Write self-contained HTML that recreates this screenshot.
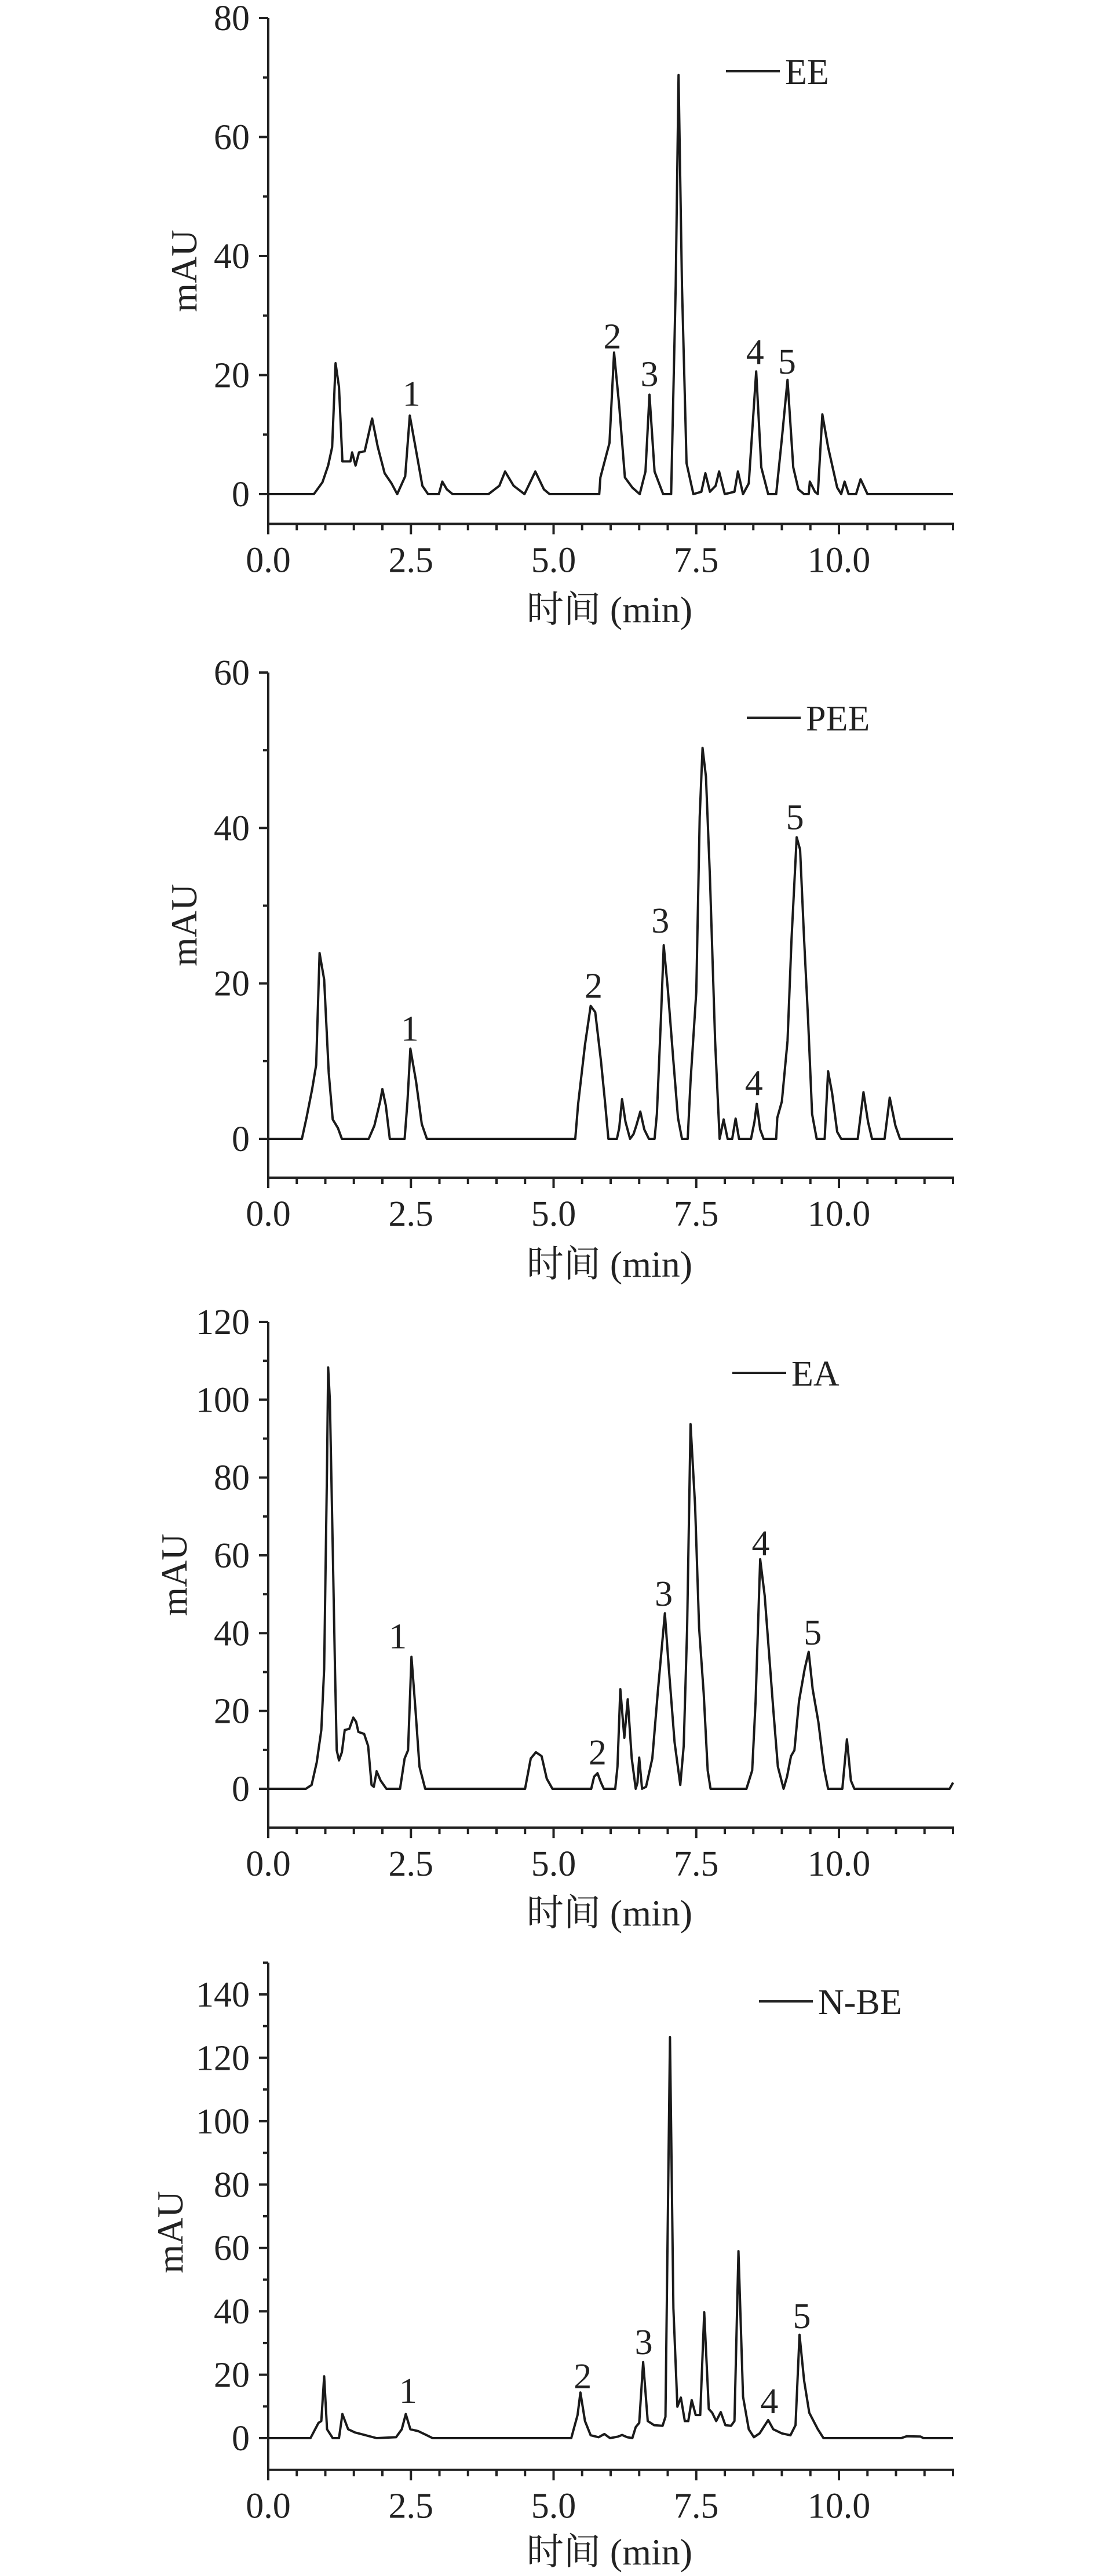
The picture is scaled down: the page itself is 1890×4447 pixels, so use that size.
<!DOCTYPE html>
<html><head><meta charset="utf-8">
<style>
html,body{margin:0;padding:0;background:#fff;}
svg{display:block;}
text{font-family:"Liberation Serif","Noto Serif CJK SC",serif;fill:#222;}
</style></head>
<body>
<svg id="fig" width="1890" height="4447" viewBox="0 0 1890 4447" xmlns="http://www.w3.org/2000/svg"></svg>
<script>
// ---- data (time in min, absorbance in mAU) ----
const xTicks = [0, 2.5, 5, 7.5, 10];
const xTickLabels = ["0.0", "2.5", "5.0", "7.5", "10.0"];

const eeNames = ["EE"];
const eeTime = [0,0.8,0.95,1.05,1.12,1.18,1.24,1.3,1.44,1.47,1.53,1.59,1.69,1.82,1.92,2.04,2.16,2.26,2.4,2.48,2.58,2.7,2.8,2.99,3.05,3.13,3.23,3.86,4.05,4.15,4.3,4.49,4.68,4.83,4.93,5.8,5.82,5.98,6.06,6.15,6.25,6.38,6.51,6.61,6.68,6.77,6.92,7.06,7.14,7.19,7.25,7.33,7.45,7.59,7.66,7.74,7.84,7.9,8.0,8.17,8.23,8.32,8.42,8.55,8.64,8.76,8.9,9.0,9.1,9.2,9.29,9.39,9.47,9.49,9.58,9.63,9.71,9.81,9.97,10.04,10.1,10.17,10.3,10.38,10.5,12];
const eeAbs = [0,0,2,4.8,7.9,22,18,5.5,5.5,7,4.8,7,7.2,12.7,7.9,3.5,1.8,0,3,13.2,7.9,1.4,0,0,2.1,0.8,0,0,1.4,3.8,1.4,0,3.8,0.8,0,0,2.8,8.6,23.8,14.8,2.8,1.1,0,3.8,16.7,3.8,0,0,35,70.4,35,5.2,0,0.4,3.5,0.4,1.4,3.8,0,0.4,3.8,0,1.8,20.6,4.5,0,0,9.3,19.2,4.5,0.8,0,0,2.1,0.4,0,13.4,7.9,1.1,0,2.1,0,0,2.5,0,0];
const eeYTicks = [0,20,40,60,80];
const eePeakTime = [2.51,6.03,6.68,8.53,9.09];
const eePeakAbs = [16.9,26.5,20.2,23.9,22.3];

const peeTime = [0,0.59,0.67,0.77,0.84,0.9,0.98,1.06,1.13,1.22,1.29,1.76,1.86,1.96,2.0,2.06,2.13,2.39,2.44,2.49,2.59,2.69,2.78,5.38,5.43,5.55,5.65,5.73,5.83,5.9,5.96,6.11,6.15,6.2,6.26,6.34,6.4,6.45,6.52,6.59,6.67,6.77,6.81,6.88,6.93,7.0,7.1,7.18,7.25,7.35,7.4,7.5,7.56,7.61,7.67,7.74,7.83,7.91,7.98,8.05,8.13,8.19,8.25,8.46,8.52,8.56,8.62,8.68,8.9,8.92,9.0,9.1,9.17,9.26,9.32,9.39,9.46,9.53,9.61,9.75,9.81,9.88,9.97,10.04,10.33,10.43,10.51,10.58,10.8,10.89,10.99,11.07,12];
const peeAbs = [0,0,2.7,6.4,9.5,23.9,20.5,8.5,2.5,1.4,0,0,1.7,4.8,6.4,4.3,0,0,4.8,11.6,7.4,1.9,0,0,4.5,12.1,17.1,16.3,10,4.8,0,0,1.4,5.1,2.2,0,0.6,1.7,3.5,1.2,0,0,3.2,15.3,24.9,19.4,10,2.7,0,0,7.4,18.9,41.4,50.3,46.6,33.6,12.6,0,2.5,0,0,2.6,0,0,2.2,4.5,1.2,0,0,2.7,4.8,12.6,25.7,38.8,37.2,25.7,15.3,3.2,0,0,8.7,5.9,0.9,0,0,6,2.2,0,0,5.3,1.7,0,0];
const peeYTicks = [0,20,40,60];
const peePeakTime = [2.48,5.7,6.87,8.51,9.23];
const peePeakAbs = [14.2,19.7,28.1,7.2,41.4];

const eaTime = [0,0.66,0.76,0.85,0.93,0.98,1.03,1.05,1.08,1.13,1.17,1.2,1.24,1.29,1.34,1.42,1.49,1.54,1.58,1.68,1.75,1.81,1.85,1.9,1.97,2.07,2.31,2.39,2.45,2.51,2.58,2.65,2.75,4.5,4.6,4.69,4.79,4.88,4.98,5.66,5.71,5.77,5.83,5.88,6.08,6.12,6.17,6.24,6.3,6.37,6.44,6.47,6.5,6.55,6.62,6.73,6.83,6.95,7.02,7.12,7.22,7.28,7.34,7.4,7.48,7.55,7.63,7.7,7.75,8.38,8.48,8.54,8.62,8.7,8.77,8.85,8.93,9.03,9.09,9.16,9.22,9.3,9.4,9.47,9.54,9.64,9.74,9.81,10.06,10.14,10.21,10.27,11.94,12];
const eaAbs = [0,0,1,6.8,15.1,30.8,83,108.3,99.7,62,30.8,9.9,7.3,9.4,15.1,15.4,18.3,17.2,14.6,14.1,11,1,0.5,4.5,2.1,0,0,7.8,9.9,33.9,20.4,5.7,0,0,7.8,9.4,8.4,2.6,0,0,3.1,4,1.6,0,0,5.7,25.6,13.1,23,7.8,0,1.6,8,0,0.5,7.8,25.6,45.1,30.8,12,1,11,41.3,93.7,72.6,41.3,24.5,4.7,0,0,4.7,22.5,59,49.6,36,20.4,5.7,0,3.1,8.4,9.9,22.5,30.8,35.2,25.6,17.2,5.2,0,0,12.7,2.1,0,0,1.6];
const eaYTicks = [0,20,40,60,80,100,120];
const eaPeakTime = [2.27,5.77,6.93,8.63,9.54];
const eaPeakAbs = [39.2,9.4,50.2,63.1,40.2];

const nbeTime = [0,0.74,0.88,0.93,0.98,1.03,1.13,1.24,1.3,1.4,1.52,1.71,1.9,2.24,2.34,2.41,2.49,2.63,2.78,2.88,5.31,5.42,5.47,5.55,5.65,5.79,5.89,5.99,6.13,6.2,6.29,6.38,6.44,6.5,6.57,6.65,6.76,6.91,6.96,7.04,7.1,7.17,7.23,7.3,7.36,7.42,7.49,7.57,7.64,7.72,7.78,7.85,7.93,8.01,8.11,8.17,8.24,8.32,8.42,8.51,8.61,8.76,8.85,9.0,9.15,9.24,9.31,9.39,9.48,9.63,9.73,11.09,11.19,11.43,11.48,12];
const nbeAbs = [0,0,4.8,5.4,19.5,2.8,0,0,7.6,2.8,1.8,0.9,0,0.3,2.8,7.6,2.8,2.2,0.9,0,0,7.3,14.4,5.4,0.9,0.3,1.3,0,0.5,1,0.3,0,3.5,4.8,24,5.4,4.1,3.9,6.7,126.5,41,9.9,12.8,5.4,5.4,12,7.3,7.3,39.7,9.2,8,5.4,8.2,4.1,3.9,5.4,59,13.1,2.8,0.3,1.5,5.7,2.8,1.5,0.9,4.1,32.6,18.2,8,2.8,0,0,0.6,0.5,0,0];
const nbeYTicks = [0,20,40,60,80,100,120,140];
const nbePeakTime = [2.45,5.51,6.58,8.78,9.35];
const nbePeakAbs = [15,19.6,30.3,11.7,38.6];

const peakLabels = ["1","2","3","4","5"];

// ---- layout ----
const NS = "http://www.w3.org/2000/svg";
const svg = document.getElementById('fig');
const X0 = 463, PXMIN = 98.5;
function xs(t){ return X0 + t*PXMIN; }
function mk(tag, attrs, parent){
  const e = document.createElementNS(NS, tag);
  for (const k in attrs) e.setAttribute(k, attrs[k]);
  (parent||svg).appendChild(e);
  return e;
}

const panels = [
  {id:"ee", legend:"EE", time:eeTime, abs:eeAbs, yt:eeYTicks, ymin:-5, ymax:80, top:31, zero:853, pt:eePeakTime, pa:eePeakAbs, legX:1253, legY:123, title:1052, ylab:317},
  {id:"pee", legend:"PEE", time:peeTime, abs:peeAbs, yt:peeYTicks, ymin:-5, ymax:60, top:1161, zero:1966, pt:peePeakTime, pa:peePeakAbs, legX:1289, legY:1239, title:2182, ylab:317},
  {id:"ea", legend:"EA", time:eaTime, abs:eaAbs, yt:eaYTicks, ymin:-10, ymax:120, top:2282, zero:3088, pt:eaPeakTime, pa:eaPeakAbs, legX:1264, legY:2370, title:3302, ylab:300},
  {id:"nbe", legend:"N-BE", time:nbeTime, abs:nbeAbs, yt:nbeYTicks, ymin:-10, ymax:150, top:3443, zero:4209, pt:nbePeakTime, pa:nbePeakAbs, legX:1310, legY:3455, title:4405, ylab:293}
];

panels.forEach(p=>{
  const topTick = p.yt[p.yt.length-1];
  const ppu = (p.zero - p.top)/topTick;
  const ys = v => p.zero - v*ppu;
  const g = mk('g', {});
  
  
  const yBot = ys(p.ymin), yTop = ys(p.ymax);
  const xEnd = xs(12);
  // axes
  const ya = mk('line', {x1:X0, y1:yTop, x2:X0, y2:yBot+2, stroke:'#222', 'stroke-width':4}, g);
  
  
  const xa = mk('line', {x1:X0-2, y1:yBot, x2:xEnd+2, y2:yBot, stroke:'#222', 'stroke-width':4}, g);
  
  
  // x ticks
  for (let i=0;i<=24;i++){
    const t = i*0.5, major = (i%5===0);
    mk('line', {x1:xs(t), y1:yBot, x2:xs(t), y2:yBot+(major?18:11), stroke:'#222', 'stroke-width':4}, g);
  }
  xTicks.forEach((t,i)=>{
    const tx = mk('text', {x:xs(t), y:yBot+83, 'font-size':62, 'text-anchor':'middle'}, g);
    tx.textContent = xTickLabels[i];
    
    
  });
  // y ticks
  const step = p.yt[1]-p.yt[0];
  for (let v = p.yt[0]; v <= p.ymax; v += step/2){
    const major = (Math.round(v/step*2)%2===0);
    mk('line', {x1:X0-(major?16:9), y1:ys(v), x2:X0, y2:ys(v), stroke:'#222', 'stroke-width':4}, g);
  }
  p.yt.forEach(v=>{
    const tx = mk('text', {x:X0-32, y:ys(v)+21, 'font-size':62, 'text-anchor':'end'}, g);
    tx.textContent = String(v);
    
    
  });
  // axis titles
  const xt = mk('text', {x:1052, y:p.title+22, 'font-size':64, 'text-anchor':'middle'}, g);
  xt.textContent = '时间 (min)';
  
  
  const ymid = (p.top + yBot)/2;
  const yt = mk('text', {x:0, y:0, 'font-size':64, 'text-anchor':'middle', transform:`translate(${p.ylab+22},${ymid}) rotate(-90)`}, g);
  yt.textContent = 'mAU';
  
  
  // trace
  let d = '';
  p.time.forEach((t,i)=>{ d += (i?'L':'M') + xs(t).toFixed(1) + ' ' + ys(p.abs[i]).toFixed(1); });
  const tr = mk('path', {d:d, fill:'none', stroke:'#1a1a1a', 'stroke-width':4, 'stroke-linejoin':'round'}, g);
  
  
  // peak labels
  p.pt.forEach((t,i)=>{
    const tx = mk('text', {x:xs(t), y:ys(p.pa[i])+21, 'font-size':62, 'text-anchor':'middle'}, g);
    tx.textContent = peakLabels[i];
    
    
  });
  // legend
  const lg = mk('g', {}, g);
  
  
  mk('line', {x1:p.legX, y1:p.legY, x2:p.legX+93, y2:p.legY, stroke:'#222', 'stroke-width':4}, lg);
  const lt = mk('text', {x:p.legX+102, y:p.legY+22, 'font-size':62}, lg);
  lt.textContent = p.legend;
});
</script>
</body></html>
